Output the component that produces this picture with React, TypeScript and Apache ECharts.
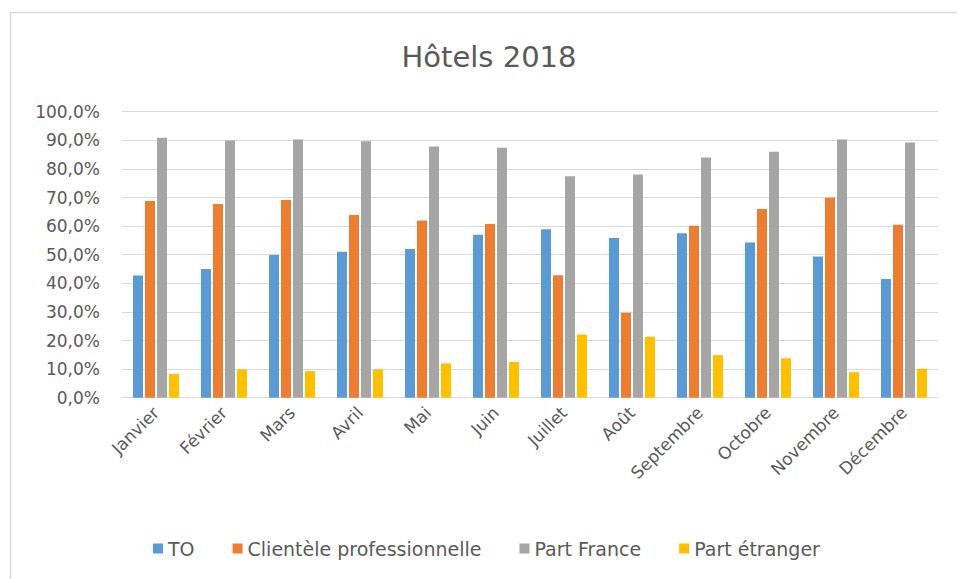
import React, { useEffect, useRef } from "react";
import * as echarts from "echarts";

const categories = ["Janvier", "Février", "Mars", "Avril", "Mai", "Juin", "Juillet", "Août", "Septembre", "Octobre", "Novembre", "Décembre"];
const seriesNames = ["TO", "Clientèle professionnelle", "Part France", "Part étranger"];
const toValues = [0.427, 0.450, 0.499, 0.510, 0.520, 0.570, 0.589, 0.558, 0.575, 0.543, 0.494, 0.415];
const clienteleValues = [0.688, 0.677, 0.691, 0.639, 0.620, 0.607, 0.428, 0.297, 0.601, 0.660, 0.699, 0.605];
const franceValues = [0.909, 0.899, 0.903, 0.897, 0.878, 0.874, 0.774, 0.780, 0.840, 0.860, 0.903, 0.892];
const etrangerValues = [0.083, 0.099, 0.093, 0.099, 0.120, 0.125, 0.221, 0.213, 0.149, 0.138, 0.089, 0.101];
const colors = ["#5B9BD5", "#ED7D31", "#A5A5A5", "#FFC000"];

const FONT = "'DejaVu Sans', 'Open Sans', sans-serif";

export default function App() {
  const ref = useRef<HTMLDivElement>(null);
  useEffect(() => {
    if (!ref.current) return;
    const chart = echarts.init(ref.current, undefined, { renderer: "svg" });
    const data = [toValues, clienteleValues, franceValues, etrangerValues];
    chart.setOption({
      animation: false,
      backgroundColor: "#ffffff",
      textStyle: { fontFamily: FONT },
      color: colors,
      title: {
        text: "Hôtels 2018",
        left: 489,
        top: 42,
        textAlign: "center",
        padding: 0,
        textStyle: { fontFamily: FONT, fontSize: 29, fontWeight: "normal", color: "#595959" },
      },
      graphic: [
        {
          type: "rect",
          shape: { x: 10.5, y: 12.5, width: 960, height: 600 },
          style: { fill: "none", stroke: "#D9D9D9", lineWidth: 1.5 },
          silent: true,
        },
      ],
      legend: {
        data: seriesNames,
        left: 153,
        top: 539,
        icon: "rect",
        itemWidth: 10,
        itemHeight: 10,
        itemGap: 38,
        padding: 0,
        textStyle: { fontFamily: FONT, fontSize: 19, color: "#595959" },
      },
      grid: { left: 122, right: 19, top: 111.7, bottom: 181.3, containLabel: false },
      xAxis: {
        type: "category",
        data: categories,
        axisLine: { lineStyle: { color: "#D9D9D9" } },
        axisTick: { show: false },
        axisLabel: { rotate: 45, fontSize: 17, color: "#595959", fontFamily: FONT, margin: 12 },
      },
      yAxis: {
        type: "value",
        min: 0,
        max: 1,
        interval: 0.1,
        axisLine: { show: false },
        axisTick: { show: false },
        splitLine: { lineStyle: { color: "#D9D9D9" } },
        axisLabel: {
          fontSize: 17,
          color: "#595959",
          fontFamily: FONT,
          margin: 22,
          formatter: (v: number) => (v * 100).toFixed(1).replace(".", ",") + "%",
        },
      },
      series: seriesNames.map((name, i) => ({
        name,
        type: "bar",
        data: data[i],
        barWidth: 10,
        barGap: "20%",
        itemStyle: { color: colors[i] },
      })),
    });
    return () => chart.dispose();
  }, []);
  return <div ref={ref} style={{ position: "absolute", left: 0, top: 0, width: 957, height: 579 }} />;
}
